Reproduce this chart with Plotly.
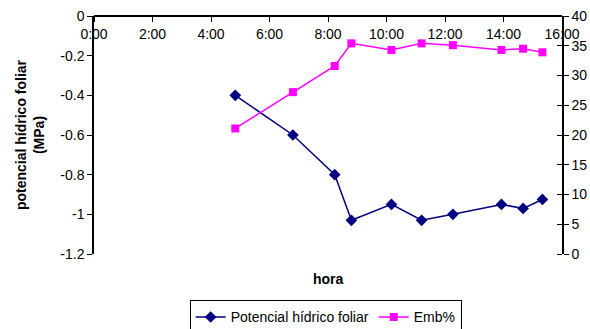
import plotly.graph_objects as go

horas = [4.83, 6.8, 8.23, 8.8, 10.17, 11.2, 12.27, 13.93, 14.67, 15.33]
potencial = [-0.40, -0.60, -0.80, -1.03, -0.95, -1.03, -1.00, -0.95, -0.97, -0.925]
emb = [21.1, 27.2, 31.6, 35.4, 34.3, 35.4, 35.1, 34.3, 34.5, 33.9]

x_tickvals = [0, 2, 4, 6, 8, 10, 12, 14, 16]
x_ticktext = ["0:00", "2:00", "4:00", "6:00", "8:00", "10:00", "12:00", "14:00", "16:00"]
y_tickvals = [0, -0.2, -0.4, -0.6, -0.8, -1.0, -1.2]
y_ticktext = ["0", "-0.2", "-0.4", "-0.6", "-0.8", "-1", "-1.2"]
y2_tickvals = [0, 5, 10, 15, 20, 25, 30, 35, 40]

font = "Liberation Sans, Arial, sans-serif"

fig = go.Figure()
fig.add_trace(go.Scatter(
    x=horas, y=potencial, name="Potencial hídrico foliar", mode="lines+markers",
    line=dict(color="#000080", width=1.5),
    marker=dict(symbol="diamond", size=9, color="#000080"),
))
fig.add_trace(go.Scatter(
    x=horas, y=emb, name="Emb%", mode="lines+markers", yaxis="y2",
    line=dict(color="#FF00FF", width=1.5),
    marker=dict(symbol="square", size=8, color="#FF00FF"),
))

fig.update_layout(
    width=590, height=329,
    margin=dict(l=94, r=28, t=16, b=75, autoexpand=False),
    paper_bgcolor="white", plot_bgcolor="white",
    font=dict(family=font, size=14, color="black"),
    showlegend=True,
    legend=dict(orientation="h", x=0.495, xanchor="center", y=-0.195, yanchor="top",
                bordercolor="black", borderwidth=1, font=dict(size=14),
                tracegroupgap=0),
    xaxis=dict(range=[0, 16], side="bottom", anchor="free", position=1,
               showline=True, linecolor="black", linewidth=1.5,
               tickvals=x_tickvals, ticktext=x_ticktext, ticks="outside", ticklen=5,
               tickcolor="black", showgrid=False, zeroline=False, automargin=False),
    yaxis=dict(range=[-1.2, 0], domain=[0, 1], showline=True, linecolor="black", linewidth=1.5,
               tickvals=y_tickvals, ticktext=y_ticktext, ticks="outside", ticklen=5,
               tickcolor="black", showgrid=False, zeroline=False, automargin=False,
               title=dict(text="<b>potencial hídrico foliar<br>(MPa)</b>", standoff=12,
                          font=dict(size=14))),
    yaxis2=dict(range=[0, 40], overlaying="y", side="right", showline=True, linecolor="black",
                linewidth=1.5, tickvals=y2_tickvals, ticks="outside", ticklen=5,
                tickcolor="black", showgrid=False, zeroline=False, automargin=False,
                minor=dict(tickvals=y2_tickvals, ticks="inside", ticklen=5, tickcolor="black")),
    annotations=[dict(text="<b>hora</b>", xref="paper", yref="paper", x=0.5, y=-0.105,
                      showarrow=False, font=dict(size=14), yanchor="middle")],
)

fig.write_html("out.html", config={"displayModeBar": False},
               post_script="document.body.style.margin='0';document.body.style.overflow='hidden';")
